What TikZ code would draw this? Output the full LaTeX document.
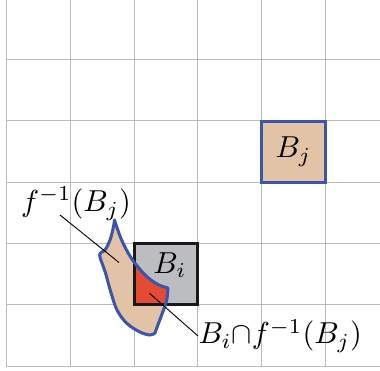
\documentclass[tikz,border=0pt]{standalone}
\usepackage{amsmath}
\definecolor{gridgray}{HTML}{BBBBBB}
\definecolor{tan}{HTML}{E2C3A6}
\definecolor{blobblue}{HTML}{3B55A8}
\definecolor{boxgray}{HTML}{BCBDC0}
\definecolor{isred}{HTML}{E54B33}
\newcommand\myblobpath{(114.5,220) -- plot[smooth,tension=0.6] coordinates {(114.5,220) (120,236) (126,249) (134,262) (146.7,276.5) (158,284.5) (168,288)}
  -- plot[smooth,tension=0.6] coordinates {(168,288) (166.5,301) (162,314) (157.5,326) (155,333)}
  -- plot[smooth,tension=0.6] coordinates {(155,333) (150,335) (140,332) (127,323.5) (117,310) (110.5,291) (105.5,273) (100,257) (101,252.5) (105,250) (110,240) (113.2,228) (114.5,220)} -- cycle}
\begin{document}
\begin{tikzpicture}[x=0.33pt,y=-0.33pt,
  gridline/.style={draw=gridgray, line width=0.5pt},
  sqbox/.style={draw, line width=1pt, minimum width=20.9pt, minimum height=20.2pt, inner sep=0pt},
  leader/.style={draw=black, line width=0.3pt},
  lbl/.style={inner sep=0pt, font=\fontsize{9.9}{11}\selectfont}]
\useasboundingbox (0,0) rectangle (380,371);
% grid
\foreach \x in {6.7,70.3,134.4,197.7,261.7,325.3} \draw[gridline] (\x,0) -- (\x,366.7);
\foreach \y in {59.3,120.7,182.4,243.3,304.7,366.7} \draw[gridline] (6.7,\y) -- (380,\y);
% B_j
\node[sqbox, draw=blobblue, fill=tan, lbl] (Bj) at (293.5,151.8) {$B_j$};
% blob fill
\fill[tan] \myblobpath;
% B_i box
\node[sqbox, draw=none, fill=boxgray] (Bi) at (165.9,274) {};
\begin{scope}
  \clip (134,243.3) rectangle (197.7,304.7);
  \fill[isred] \myblobpath;
\end{scope}
\node[sqbox, draw=black!90] (Biframe) at (165.9,274) {};
\draw[blobblue, line width=1pt, line join=round] \myblobpath;
\node[lbl] (Bilabel) at (170,265) {$B_i$};
% labels and leaders
\node[lbl] (flabel) at (76,204) {$f^{-1}(B_j)$};
\node[lbl, anchor=west] (ilabel) at (198,336) {$B_i{\cap}f^{-1}(B_j)$};
\coordinate (fs) at (60,215);
\coordinate (fe) at (119,262.5);
\coordinate (is) at (149.5,293.3);
\draw[leader] (fs) -- (fe);
\draw[leader] (is) -- (ilabel.west);
\end{tikzpicture}
\end{document}
